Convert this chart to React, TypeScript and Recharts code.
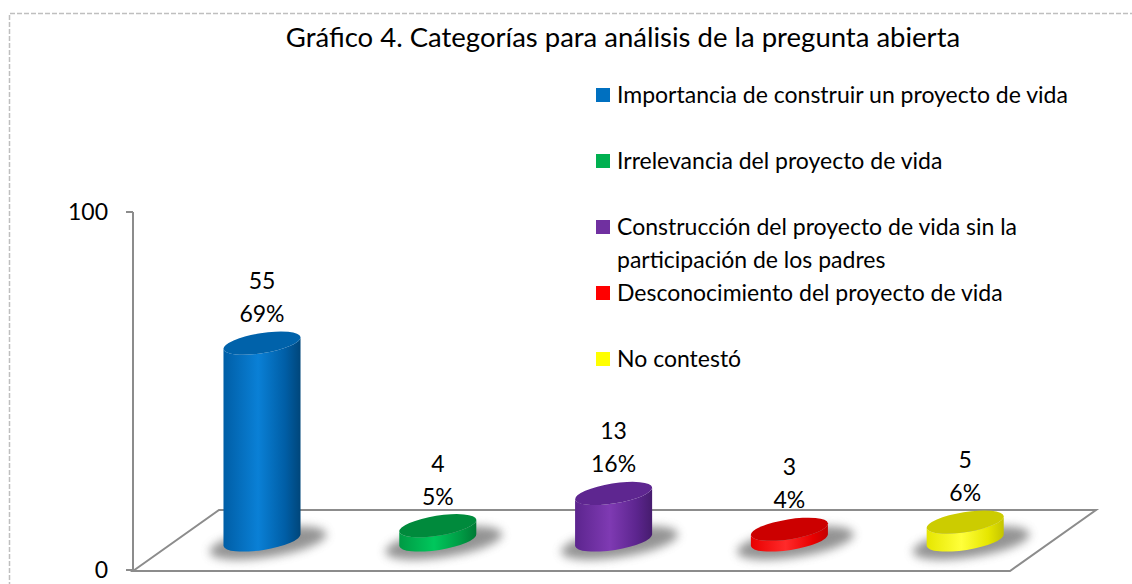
import React from 'react';
import { BarChart, Bar, XAxis, YAxis, LabelList } from 'recharts';

const title = 'Gráfico 4. Categorías para análisis de la pregunta abierta';
const categories = [
  'Importancia de construir un proyecto de vida',
  'Irrelevancia del proyecto de vida',
  'Construcción del proyecto de vida sin la participación de los padres',
  'Desconocimiento del proyecto de vida',
  'No contestó',
];
const counts = [55, 4, 13, 3, 5];
const percents = ['69%', '5%', '16%', '4%', '6%'];
const colors = ['#0070C0', '#00B050', '#7030A0', '#FF0000', '#FFFF00'];
const yTicks = [0, 100];

// shading per cylinder: [body left, body highlight, body right, top]
const shades = [
  ['#005ea6', '#0a80d6', '#00467a', '#0062aa'],
  ['#009a44', '#00c75c', '#007a35', '#008a3c'],
  ['#5c258e', '#7f3ab3', '#461c6e', '#5e2690'],
  ['#e80000', '#ff2a2a', '#c40000', '#cc0000'],
  ['#e6e600', '#ffff3a', '#c4c400', '#cccc00'],
];

const data = categories.map((name, i) => ({ name, value: counts[i], pct: percents[i] }));

const W = 1132;
const H = 584;
const M = { top: 212, right: 79, bottom: 14, left: 0 };
const YAXIS_W = 133;
const PAD_LEFT = 41;
const DEPTH = 30;
const TILT = -9;
const RY = 10;
const FONT = 'Lato, "Noto Sans", sans-serif';

const Cylinder = (props: any) => {
  const { x, y, width, height, index } = props;
  const cx = x + width / 2;
  const rx = width / 2;
  const topY = y - DEPTH;
  const botY = y + height - DEPTH;
  const t = (TILT * Math.PI) / 180;
  const dx = rx * Math.cos(t);
  const dy = rx * Math.sin(t);
  const TL = `${cx - dx},${topY - dy}`;
  const TR = `${cx + dx},${topY + dy}`;
  const BL = `${cx - dx},${botY - dy}`;
  const BR = `${cx + dx},${botY + dy}`;
  const d = `M${TL} L${BL} A${rx} ${RY} ${TILT} 0 0 ${BR} L${TR} A${rx} ${RY} ${TILT} 0 1 ${TL} Z`;
  return (
    <g>
      <ellipse
        cx={cx + 6}
        cy={botY + 3}
        rx={rx + 20}
        ry={RY + 4}
        transform={`rotate(${TILT} ${cx + 6} ${botY + 3})`}
        fill="#6f6f6f"
        opacity={0.75}
        filter="url(#shadowBlur)"
      />
      <path d={d} fill={`url(#body${index})`} />
      <ellipse
        cx={cx}
        cy={topY}
        rx={rx}
        ry={RY}
        transform={`rotate(${TILT} ${cx} ${topY})`}
        fill={shades[index][3]}
      />
    </g>
  );
};

const TwoLineLabel = (props: any) => {
  const { x, y, width, index } = props;
  const cx = x + width / 2;
  const top = y - DEPTH;
  return (
    <g fontFamily={FONT} fontSize={23} fill="#000" textAnchor="middle">
      <text x={cx} y={top - 63} dominantBaseline="central">{counts[index]}</text>
      <text x={cx} y={top - 30} dominantBaseline="central">{percents[index]}</text>
    </g>
  );
};

export default function App() {
  const plotLeft = M.left + YAXIS_W;
  const plotRight = W - M.right;
  const plotBottom = H - M.bottom;
  const floorBack = plotBottom - 2 * DEPTH;
  const slant = 2 * (PAD_LEFT + 2);
  const floorPts = [
    [plotLeft, plotBottom + 1],
    [plotLeft + slant, floorBack],
    [plotRight + slant / 2, floorBack],
    [plotRight - slant / 2, plotBottom + 1],
  ]
    .map((p) => p.join(','))
    .join(' ');

  return (
    <div style={{ position: 'absolute', left: 0, top: 0, width: W, height: H, background: '#fff', fontFamily: FONT }}>
      <svg width={W} height={H} style={{ position: 'absolute', left: 0, top: 0 }}>
        <path d={`M9.5,${H + 10} L9.5,13.5 L${W + 10},13.5`} fill="none" stroke="#bfbfbf" strokeWidth={1.5} strokeDasharray="5 2" />
        <polygon points={floorPts} fill="#fff" stroke="#8c8c8c" strokeWidth={2} />
      </svg>
      <div
        style={{
          position: 'absolute',
          left: 0,
          width: 1246,
          top: 19,
          textAlign: 'center',
          fontSize: 27.5,
          lineHeight: '36px',
          color: '#000',
        }}
      >
        {title}
      </div>
      <div style={{ position: 'absolute', left: 596, top: 78, width: 520 }}>
        {categories.map((c, i) => (
          <div key={c} style={{ display: 'flex', alignItems: 'flex-start', height: 66 }}>
            <div style={{ width: 14, height: 14, background: colors[i], marginTop: 10, flex: 'none' }} />
            <div style={{ marginLeft: 7, fontSize: 23, lineHeight: '33px', color: '#000', width: 480 }}>{c}</div>
          </div>
        ))}
      </div>
      <div style={{ position: 'absolute', left: 0, top: 0 }}>
        <BarChart width={W} height={H} data={data} margin={M} barSize={78}>
          <defs>
            <filter id="shadowBlur" x="-50%" y="-100%" width="200%" height="300%">
              <feGaussianBlur stdDeviation="5" />
            </filter>
            {shades.map((s, i) => (
              <linearGradient key={i} id={`body${i}`} x1="0" y1="0" x2="1" y2="0">
                <stop offset="0%" stopColor={s[0]} />
                <stop offset="45%" stopColor={s[1]} />
                <stop offset="80%" stopColor={s[0]} />
                <stop offset="100%" stopColor={s[2]} />
              </linearGradient>
            ))}
          </defs>
          <XAxis dataKey="name" hide padding={{ left: PAD_LEFT, right: 0 }} />
          <YAxis
            width={YAXIS_W}
            domain={[0, 100]}
            ticks={yTicks}
            interval={0}
            tickSize={7}
            tickMargin={18}
            axisLine={{ stroke: '#8c8c8c', strokeWidth: 2 }}
            tickLine={{ stroke: '#8c8c8c', strokeWidth: 2 }}
            tick={{ fill: '#000', fontSize: 23, fontFamily: FONT }}
          />
          <Bar dataKey="value" shape={<Cylinder />} isAnimationActive={false}>
            <LabelList dataKey="value" content={<TwoLineLabel />} />
          </Bar>
        </BarChart>
      </div>
    </div>
  );
}
